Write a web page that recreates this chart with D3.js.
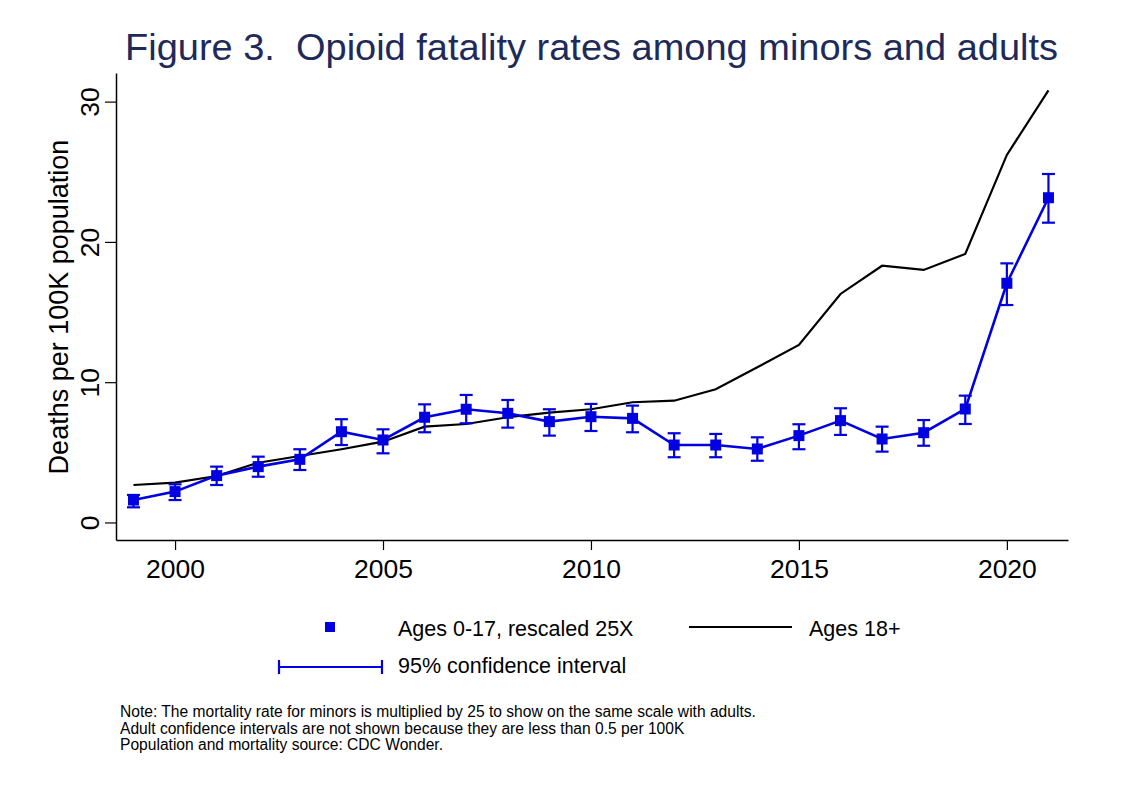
<!DOCTYPE html>
<html><head><meta charset="utf-8">
<script src="https://cdn.jsdelivr.net/npm/d3@7"></script>
<style>body{margin:0;background:#fff}svg{display:block}text{font-family:"Liberation Sans",Arial,Helvetica,sans-serif}</style>
</head><body><svg id="c" width="1136" height="786"></svg>
<script>
const years = [1999,2000,2001,2002,2003,2004,2005,2006,2007,2008,2009,2010,2011,2012,2013,2014,2015,2016,2017,2018,2019,2020,2021];
const minors = [1.6,2.2,3.34,3.98,4.5,6.47,5.88,7.5,8.07,7.78,7.19,7.54,7.42,5.52,5.52,5.24,6.19,7.26,5.95,6.4,8.09,17.05,23.15];
const minorsLo = [1.08,1.6,2.67,3.26,3.74,5.52,4.93,6.43,7.07,6.76,6.19,6.52,6.43,4.65,4.65,4.4,5.22,6.24,5.05,5.47,7.02,15.5,21.37];
const minorsHi = [1.96,2.72,3.98,4.69,5.22,7.36,6.64,8.42,9.09,8.73,8.07,8.45,8.33,6.36,6.31,6.07,7.0,8.14,6.83,7.3,9.04,18.47,24.84];
const adults = [2.67,2.84,3.31,4.26,4.74,5.22,5.76,6.83,7.02,7.5,7.83,8.07,8.57,8.68,9.49,11.06,12.65,16.29,18.3,18.0,19.14,26.2,30.8];
const xTicks = [2000,2005,2010,2015,2020];
const yTicks = [0,10,20,30];
const titleText = "Figure 3.  Opioid fatality rates among minors and adults";
const yTitle = "Deaths per 100K population";
const legendMinors = "Ages 0-17, rescaled 25X";
const legendAdults = "Ages 18+";
const legendCI = "95% confidence interval";
const notes = ["Note: The mortality rate for minors is multiplied by 25 to show on the same scale with adults.",
  "Adult confidence intervals are not shown because they are less than 0.5 per 100K",
  "Population and mortality source: CDC Wonder."];

const blue = "#0000e0", navy = "#1e2a5a";
const svg = d3.select("#c");
const L = 116, R = 1068, T = 73, B = 540;
const x = d3.scaleLinear().domain([1998.58, 2021.47]).range([L, R]);
const y = d3.scaleLinear().domain([-1.25, 32.04]).range([B, T]);

svg.append("text").attr("x", 125).attr("y", 60)
  .attr("font-size", 36).attr("fill", navy).style("white-space","pre")
  .attr("textLength", 933).attr("lengthAdjust","spacingAndGlyphs").text(titleText);

// axes
const xa = svg.append("g").attr("transform", `translate(0,${B})`)
  .call(d3.axisBottom(x).tickValues(xTicks).tickFormat(d3.format("d")).tickSize(10).tickPadding(8).tickSizeOuter(0));
xa.select(".domain").attr("stroke","#000").attr("stroke-width",1.5);
xa.selectAll(".tick line").attr("stroke","#000").attr("stroke-width",1.2);
xa.selectAll(".tick text").attr("font-size",26.5).attr("fill","#000").attr("y",38).attr("dy",0);

const ya = svg.append("g").attr("transform", `translate(${L},0)`)
  .call(d3.axisLeft(y).tickValues(yTicks).tickSize(11).tickSizeOuter(0).tickFormat(d3.format("d")));
ya.select(".domain").attr("stroke","#000").attr("stroke-width",1.5);
ya.selectAll(".tick line").attr("stroke","#000").attr("stroke-width",1.2);
ya.selectAll(".tick text").attr("font-size",26.5).attr("fill","#000")
  .attr("x",0).attr("dy",0).attr("text-anchor","middle")
  .attr("transform","translate(-17,0) rotate(-90)");

svg.append("text").attr("transform","translate(68,307) rotate(-90)").attr("text-anchor","middle")
  .attr("font-size",27).attr("fill","#000").text(yTitle);

// adult line
svg.append("path").datum(years.map((d,i)=>[d,adults[i]]))
  .attr("fill","none").attr("stroke","#000").attr("stroke-width",2.2)
  .attr("d", d3.line().x(d=>x(d[0])).y(d=>y(d[1])));

// minors line
svg.append("path").datum(years.map((d,i)=>[d,minors[i]]))
  .attr("fill","none").attr("stroke",blue).attr("stroke-width",2.6)
  .attr("d", d3.line().x(d=>x(d[0])).y(d=>y(d[1])));

// CIs
const cap = 6.5;
const ci = svg.append("g").attr("stroke",blue).attr("stroke-width",2.2).attr("fill","none");
years.forEach((yr,i)=>{
  const cx = x(yr);
  ci.append("line").attr("x1",cx).attr("x2",cx).attr("y1",y(minorsLo[i])).attr("y2",y(minorsHi[i]));
  ci.append("line").attr("x1",cx-cap).attr("x2",cx+cap).attr("y1",y(minorsLo[i])).attr("y2",y(minorsLo[i]));
  ci.append("line").attr("x1",cx-cap).attr("x2",cx+cap).attr("y1",y(minorsHi[i])).attr("y2",y(minorsHi[i]));
});

// markers
const ms = 11;
svg.append("g").selectAll("rect").data(years).join("rect")
  .attr("x",(d)=>x(d)-ms/2).attr("y",(d,i)=>y(minors[i])-ms/2)
  .attr("width",ms).attr("height",ms).attr("fill",blue);

// legend
svg.append("rect").attr("x",325).attr("y",622).attr("width",10).attr("height",10).attr("fill",blue);
svg.append("text").attr("x",398).attr("y",636).attr("font-size",21.5).attr("fill","#000").text(legendMinors);
svg.append("line").attr("x1",689).attr("x2",792).attr("y1",627).attr("y2",627).attr("stroke","#000").attr("stroke-width",2.2);
svg.append("text").attr("x",809).attr("y",636).attr("font-size",21.5).attr("fill","#000").text(legendAdults);
const lg = svg.append("g").attr("stroke",blue).attr("stroke-width",2.2);
lg.append("line").attr("x1",279).attr("x2",382).attr("y1",667).attr("y2",667);
lg.append("line").attr("x1",279).attr("x2",279).attr("y1",660).attr("y2",674);
lg.append("line").attr("x1",382).attr("x2",382).attr("y1",660).attr("y2",674);
svg.append("text").attr("x",398).attr("y",673).attr("font-size",21.5).attr("fill","#000").text(legendCI);

// notes
notes.forEach((n,i)=>{
  svg.append("text").attr("x",120).attr("y",717+i*16.5).attr("font-size",15.6).attr("fill","#000").text(n);
});
</script></body></html>
